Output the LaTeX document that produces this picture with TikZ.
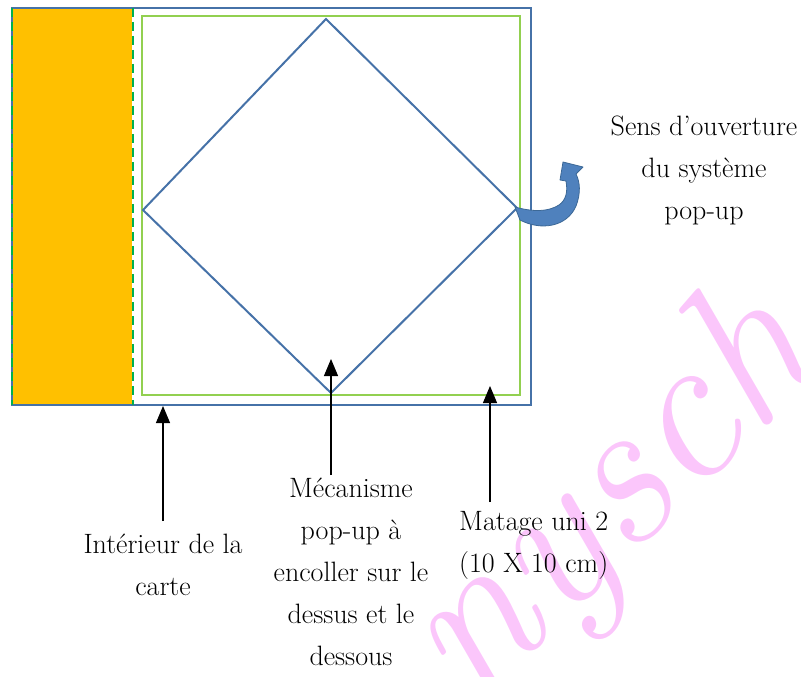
\documentclass[tikz,border=0pt]{standalone}
\usetikzlibrary{arrows.meta,calc}
\definecolor{cblue}{RGB}{70,114,168}
\definecolor{cgreen}{RGB}{146,208,80}
\definecolor{cdash}{RGB}{0,176,80}
\definecolor{corange}{RGB}{255,192,0}
\definecolor{cpink}{RGB}{251,198,251}
\definecolor{carrowfill}{RGB}{79,129,189}
\definecolor{carrowline}{RGB}{60,104,150}
\begin{document}
\begin{tikzpicture}[x=1pt,y=-1pt,
  blueline/.style={draw=cblue, line width=2pt},
  greenline/.style={draw=cgreen, line width=2.5pt},
  dashgreen/.style={draw=cdash, line width=2.5pt, dash pattern=on 9pt off 5pt},
  lbl/.style={font=\fontsize{28}{42}\selectfont, inner sep=0pt, align=center},
  arr/.style={-{Triangle[width=14pt,length=17pt]}, line width=1.1pt, black},
  wm/.style={font=\fontsize{210}{210}\selectfont\itshape, text=cpink, inner sep=0pt},
]
\useasboundingbox (0,0) rectangle (801,677);
% watermark
\begin{scope}
  \clip (0,0) rectangle (801,677);
  \node[wm, rotate=44] (wm) at (615,500) {nysch};
\end{scope}
% card interior
\fill[corange] (12,8) rectangle (133,405);
\draw[line width=3pt, white] (133,8) -- (133,405);
% outer card
\draw[blueline] (12,8) rectangle (531,405);
\draw[dashgreen] (12,8) -- (12,405);
\draw[dashgreen] (133,8) -- (133,405);
% matting
\draw[greenline] (142,16) rectangle (520,395);
% pop-up diamond
\draw[blueline, line join=miter] (326,19) -- (517,208) -- (331,393) -- (143,210) -- cycle;
% curved opening arrow
\filldraw[fill=carrowfill, draw=carrowline, line width=0.8pt, line join=round]
  (515,207) -- (520,220) .. controls (541,231) and (567,227) .. (576,206)
  .. controls (581,193) and (580,182) .. (576,174) -- (583,167) -- (563,162) -- (560,180) -- (566,181)
  .. controls (568,192) and (566,200) .. (559,205)
  .. controls (548,212) and (533,212) .. (515,207) -- cycle;
% labels
\node[lbl, anchor=north] (lbl1) at (163,534) {Intérieur de la\\carte};
\node[lbl, anchor=north] (lbl2) at (351,478) {Mécanisme\\pop-up à\\encoller sur le\\dessus et le\\dessous};
\node[lbl, anchor=north west, align=left] (lbl3) at (459,511) {Matage uni 2\\(10 X 10 cm)};
\node[lbl, anchor=north] (lbl4) at (704,116) {Sens d'ouverture\\du système\\pop-up};
% arrow targets
\coordinate (t1) at (163,406);
\coordinate (t2) at (331,359);
\coordinate (t3) at (490,386);
\draw[arr] ($(lbl1.north)+(0,-13)$) -- (t1);
\draw[arr] ($(lbl2.north -| t2)+(0,-3)$) -- (t2);
\draw[arr] ($(lbl3.north -| t3)+(0,-9)$) -- (t3);
\end{tikzpicture}
\end{document}
